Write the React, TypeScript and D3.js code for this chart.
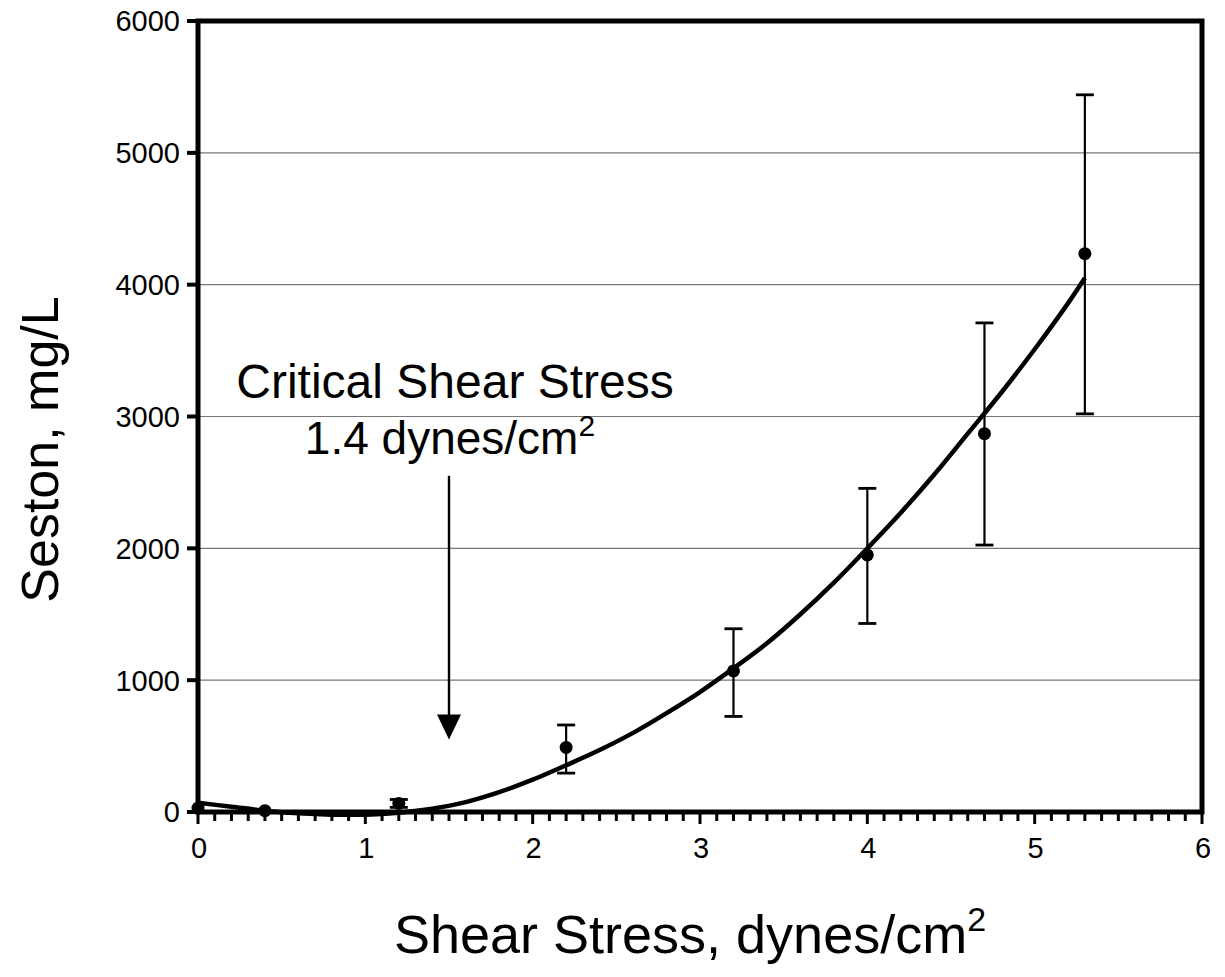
import * as d3 from "d3";
import React from "react";

// measured points (mean +/- error)
const shearStress = [0, 0.4, 1.2, 2.2, 3.2, 4.0, 4.7, 5.3];
const sestonMean = [30, 10, 65, 490, 1070, 1950, 2870, 4235];
const sestonLow = [30, 10, 35, 295, 725, 1430, 2025, 3020];
const sestonHigh = [30, 10, 95, 660, 1390, 2455, 3710, 5440];

// fitted curve
const fitX = [0, 0.2, 0.4, 0.6, 0.8, 1.0, 1.2, 1.4, 1.6, 1.8, 2.0, 2.2, 2.4, 2.6, 2.8, 3.0, 3.2, 3.4, 3.6, 3.8, 4.0, 4.2, 4.4, 4.6, 4.8, 5.0, 5.2, 5.3];
const fitY = [70, 40, 10, -10, -20, -20, -5, 25, 75, 150, 245, 355, 470, 600, 750, 910, 1090, 1280, 1500, 1740, 2000, 2270, 2560, 2870, 3180, 3510, 3860, 4050];

const xTicks = [0, 1, 2, 3, 4, 5, 6];
const yTicks = [0, 1000, 2000, 3000, 4000, 5000, 6000];

// critical shear stress arrow
const arrowX = 1.5;
const arrowFrom = 2550;
const arrowTo = 550;

const font = "Arial, 'Liberation Sans', sans-serif";

export default function App() {
  const left = 198;
  const right = 1202;
  const top = 21;
  const bottom = 812;

  const x = d3.scaleLinear().domain([0, 6]).range([left, right]);
  const y = d3.scaleLinear().domain([0, 6000]).range([bottom, top]);

  const fitLine = d3
    .line<number>()
    .x((d, i) => x(fitX[i]))
    .y((d) => y(d))
    .curve(d3.curveCatmullRom);

  const minorTicks = d3.range(0, 61).map((i) => i / 10);

  const tipY = y(arrowTo);
  const headH = 25;
  const headW = 12;

  return (
    <svg
      width={1225}
      height={977}
      style={{ position: "absolute", left: 0, top: 0, background: "#fff" }}
    >
      {/* grid */}
      {yTicks
        .filter((t) => t > 0 && t < 6000)
        .map((t) => (
          <line key={"g" + t} x1={left} x2={right} y1={y(t)} y2={y(t)} stroke="#777" strokeWidth={1.2} />
        ))}

      {/* fitted curve */}
      <path d={fitLine(fitY) || ""} fill="none" stroke="#000" strokeWidth={4.5} strokeLinejoin="round" />

      {/* error bars */}
      {shearStress.map((s, i) =>
        sestonHigh[i] - sestonLow[i] > 20 ? (
          <g key={"e" + i} stroke="#000" strokeWidth={2.2}>
            <line x1={x(s)} x2={x(s)} y1={y(sestonHigh[i])} y2={y(sestonLow[i])} />
            <line x1={x(s) - 9} x2={x(s) + 9} y1={y(sestonHigh[i])} y2={y(sestonHigh[i])} strokeWidth={2.8} />
            <line x1={x(s) - 9} x2={x(s) + 9} y1={y(sestonLow[i])} y2={y(sestonLow[i])} strokeWidth={2.8} />
          </g>
        ) : null
      )}

      {/* points */}
      {shearStress.map((s, i) => (
        <circle key={"p" + i} cx={x(s)} cy={y(sestonMean[i])} r={6.5} fill="#000" />
      ))}

      {/* arrow */}
      <line x1={x(arrowX)} x2={x(arrowX)} y1={y(arrowFrom)} y2={tipY - headH + 2} stroke="#000" strokeWidth={2.4} />
      <path
        d={`M${x(arrowX) - headW},${tipY - headH} L${x(arrowX) + headW},${tipY - headH} L${x(arrowX)},${tipY} Z`}
        fill="#000"
      />

      {/* frame */}
      <rect x={left} y={top} width={right - left} height={bottom - top} fill="none" stroke="#000" strokeWidth={5} />

      {/* x ticks */}
      {minorTicks.map((t) => {
        const major = Math.abs(t - Math.round(t)) < 1e-6;
        return (
          <line
            key={"xt" + t}
            x1={x(t)}
            x2={x(t)}
            y1={bottom}
            y2={bottom + (major ? 12 : 9)}
            stroke="#000"
            strokeWidth={3}
          />
        );
      })}

      {/* y ticks */}
      {yTicks.map((t) => (
        <line key={"yt" + t} x1={left - 11} x2={left} y1={y(t)} y2={y(t)} stroke="#000" strokeWidth={4} />
      ))}

      {/* tick labels */}
      {yTicks.map((t) => (
        <text
          key={"yl" + t}
          x={left - 18}
          y={y(t)}
          dy="0.36em"
          textAnchor="end"
          fontFamily={font}
          fontSize={29}
        >
          {t}
        </text>
      ))}
      {xTicks.map((t) => (
        <text key={"xl" + t} x={x(t) + 1} y={bottom + 46} textAnchor="middle" fontFamily={font} fontSize={29}>
          {t}
        </text>
      ))}

      {/* axis titles */}
      <text
        transform={`translate(58, ${(top + bottom) / 2 + 33}) rotate(-90)`}
        textAnchor="middle"
        fontFamily={font}
        fontSize={52}
      >
        Seston, mg/L
      </text>
      <text x={690} y={953} textAnchor="middle" fontFamily={font} fontSize={54}>
        Shear Stress, dynes/cm<tspan dy={-22} fontSize={34}>2</tspan>
      </text>

      {/* annotation */}
      <text x={455} y={398} textAnchor="middle" fontFamily={font} fontSize={48}>
        Critical Shear Stress
      </text>
      <text x={450} y={454} textAnchor="middle" fontFamily={font} fontSize={46}>
        1.4 dynes/cm<tspan dy={-18} fontSize={30}>2</tspan>
      </text>
    </svg>
  );
}
